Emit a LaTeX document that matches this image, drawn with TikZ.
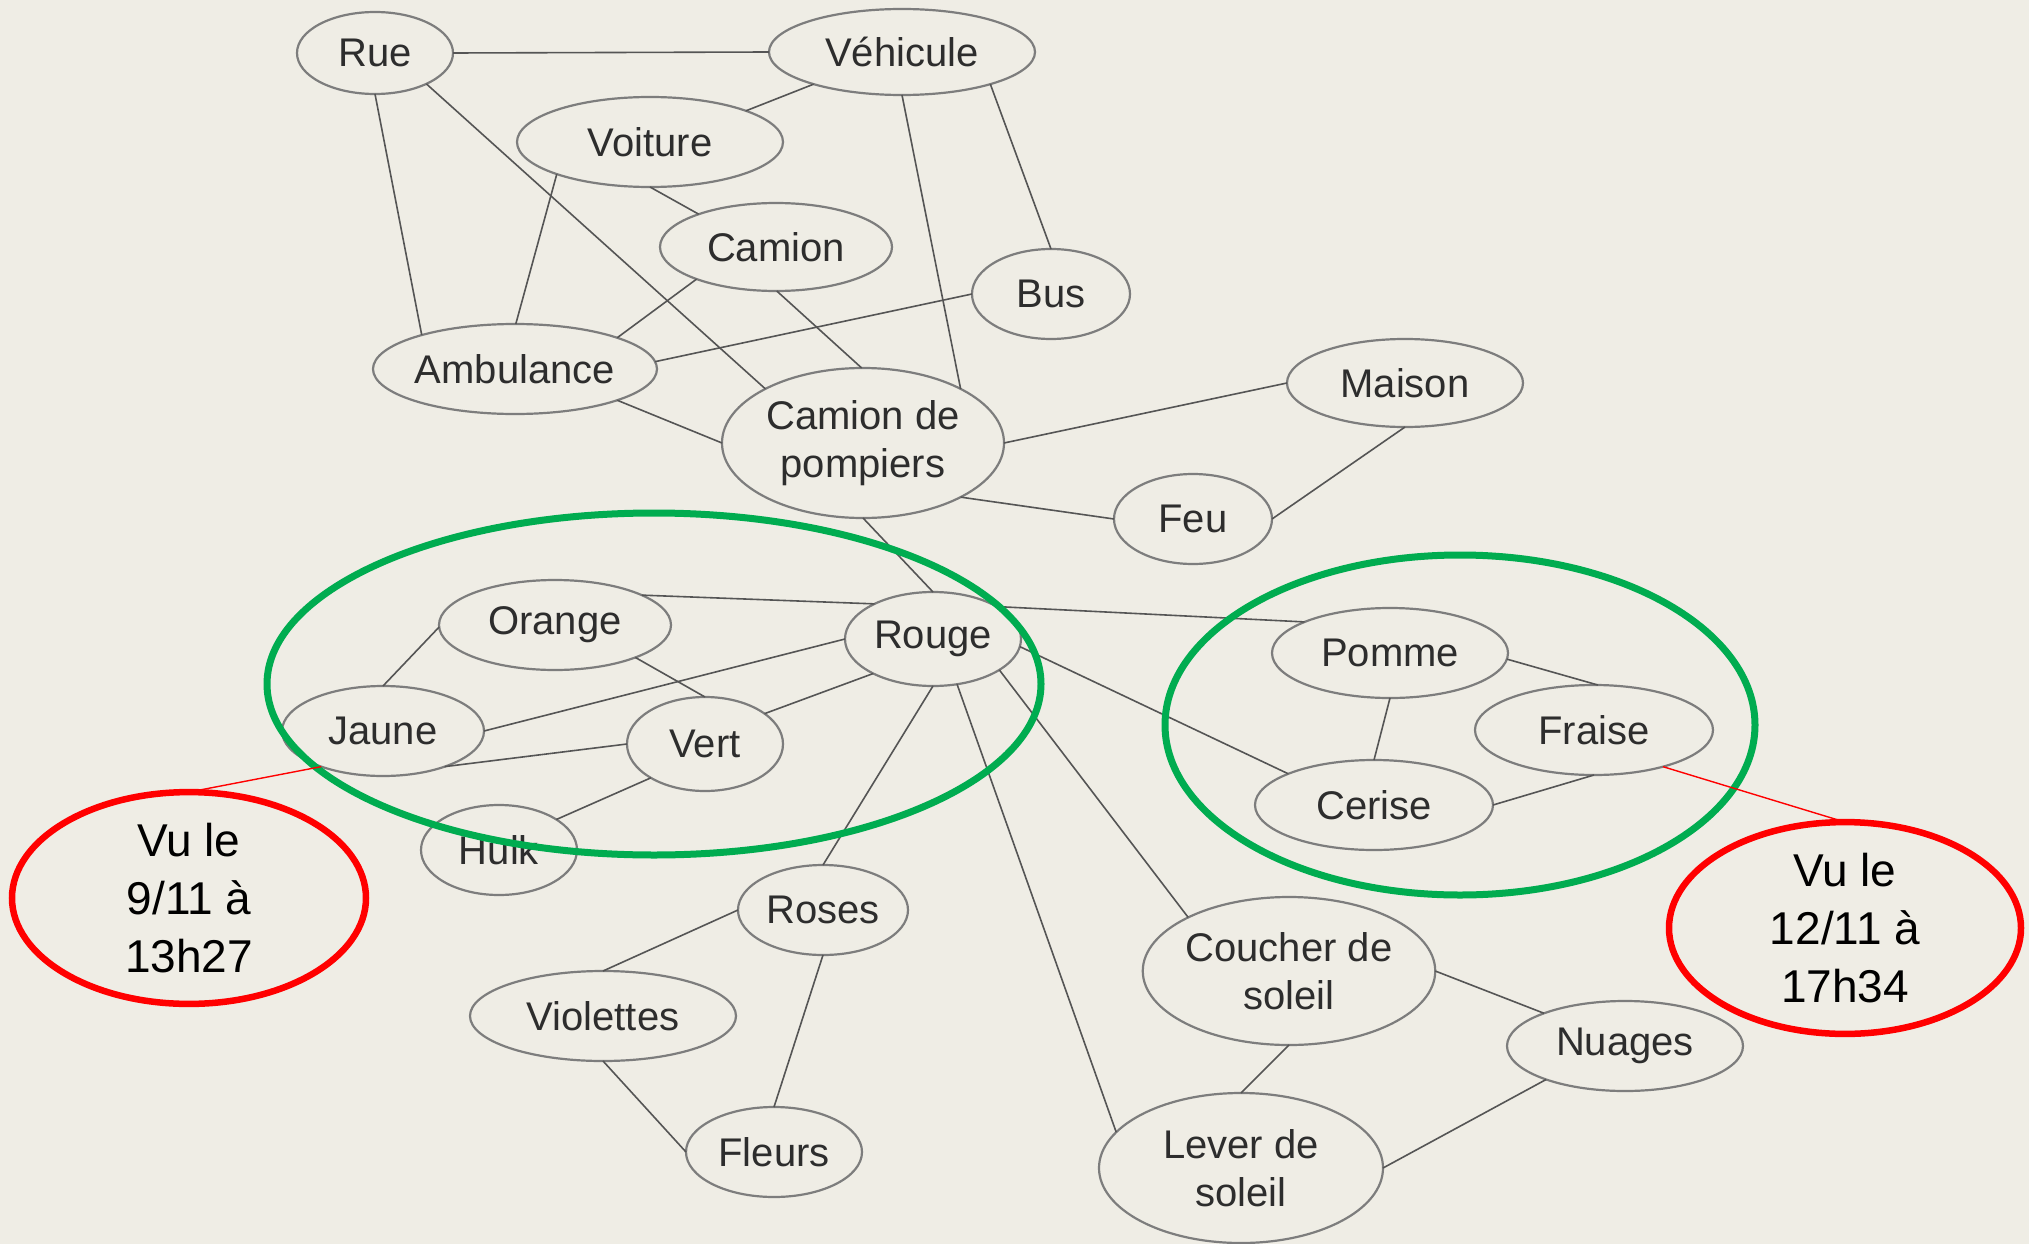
\documentclass[tikz,border=0pt]{standalone}
\usepackage{fontspec}
\setmainfont{Liberation Sans}
\usetikzlibrary{shapes.geometric}
\definecolor{bg}{RGB}{239,237,229}
\definecolor{nodegray}{RGB}{125,125,125}
\definecolor{edgegray}{RGB}{85,85,85}
\definecolor{txtgray}{RGB}{45,45,45}
\definecolor{grp}{RGB}{0,172,80}
\definecolor{note}{RGB}{255,0,0}
\begin{document}
\begin{tikzpicture}[x=1pt,y=-1pt,
  concept/.style={ellipse, draw=nodegray, line width=2.2pt, inner sep=0pt, outer sep=0pt,
    text=txtgray, font=\fontsize{40}{48}\selectfont, align=center},
  sz/.style 2 args={minimum width=#1pt, minimum height=#2pt},
  link/.style={draw=edgegray, line width=1.6pt},
  group/.style={draw=grp, line width=7pt},
  notebox/.style={ellipse, draw=note, line width=6.5pt, inner sep=0pt, outer sep=0pt,
    text=black, font=\fontsize{46}{58}\selectfont, align=center},
  noteline/.style={draw=note, line width=1.4pt}]
\useasboundingbox (0,0) rectangle (2029,1244);
\fill[bg] (0,0) rectangle (2029,1244);

% concept nodes
\node[concept, sz={156}{82}] (rue) at (375,53) {Rue};
\node[concept, sz={266}{86}] (veh) at (902,52) {Véhicule};
\node[concept, sz={266}{90}] (voit) at (650,142) {Voiture};
\node[concept, sz={232}{88}] (cam) at (776,247) {Camion};
\node[concept, sz={158}{90}] (bus) at (1051,294) {Bus};
\node[concept, sz={284}{90}] (amb) at (515,369) {Ambulance};
\node[concept, sz={282}{150}] (pomp) at (863,443) {Camion de\\pompiers};
\node[concept, sz={236}{88}] (mais) at (1405,383) {Maison};
\node[concept, sz={158}{90}] (feu) at (1193,519) {Feu};
\node[concept, sz={232}{90}] (orange) at (555,625) {Orange};
\node[concept, sz={176}{94}] (rouge) at (933,639) {Rouge};
\node[concept, sz={202}{90}] (jaune) at (383,731) {Jaune};
\node[concept, sz={156}{94}] (vert) at (705,744) {Vert};
\node[concept, sz={156}{90}] (hulk) at (499,850) {Hulk};
\node[concept, sz={236}{90}] (pomme) at (1390,653) {Pomme};
\node[concept, sz={238}{90}] (fraise) at (1594,730) {Fraise};
\node[concept, sz={238}{90}] (cerise) at (1374,805) {Cerise};
\node[concept, sz={170}{90}] (roses) at (823,910) {Roses};
\node[concept, sz={266}{90}] (viol) at (603,1016) {Violettes};
\node[concept, sz={176}{90}] (fleurs) at (774,1152) {Fleurs};
\node[concept, sz={284}{148}] (couch) at (1289,971) {Coucher de\\soleil};
\node[concept, sz={236}{90}] (nuag) at (1625,1046) {Nuages};
\node[concept, sz={284}{150}] (lever) at (1241,1168) {Lever de\\soleil};

% connectors
\draw[link] (rue.0) -- (veh.180);
\draw[link] (rue.-90) -- (amb.160);
\draw[link] (rue.-31) -- (pomp.151);
\draw[link] (veh.200) -- (voit.18);
\draw[link] (veh.-90) -- (pomp.29);
\draw[link] (veh.-20) -- (bus.90);
\draw[link] (voit.199) -- (amb.89);
\draw[link] (voit.-90) -- (cam.157);
\draw[link] (cam.202) -- (amb.17);
\draw[link] (cam.-89) -- (pomp.91);
\draw[link] (amb.3) -- (bus.180);
\draw[link] (amb.-17) -- (pomp.180);
\draw[link] (pomp.0) -- (mais.180);
\draw[link] (pomp.-29) -- (feu.180);
\draw[link] (feu.0) -- (mais.-90);
\draw[link] (pomp.-90) -- (rouge.90);
\draw[link] (orange.19) -- (rouge.149);
\draw[link] (rouge.27) -- (pomme.160);
\draw[link] (orange.181) -- (jaune.90);
\draw[link] (orange.-22) -- (vert.90);
\draw[link] (jaune.0) -- (rouge.180);
\draw[link] (jaune.-30) -- (vert.180);
\draw[link] (vert.27) -- (rouge.-150);
\draw[link] (vert.-148) -- (hulk.28);
\draw[link] (rouge.-5) -- (cerise.160);
\draw[link] (rouge.-90) -- (roses.90);
\draw[link] (rouge.-62) -- (lever.164);
\draw[link] (rouge.-25) -- (couch.152);
\draw[link] (pomme.-3) -- (fraise.85);
\draw[link] (pomme.-90) -- (cerise.90);
\draw[link] (cerise.0) -- (fraise.-90);
\draw[link] (roses.180) -- (viol.90);
\draw[link] (roses.-90) -- (fleurs.90);
\draw[link] (viol.-90) -- (fleurs.180);
\draw[link] (couch.0) -- (nuag.158);
\draw[link] (couch.-90) -- (lever.90);
\draw[link] (lever.0) -- (nuag.203);

% groups
\node[ellipse, group, inner sep=0pt, sz={774}{342}] (g1) at (654,684) {};
\node[ellipse, group, inner sep=0pt, sz={590}{340}] (g2) at (1460,725) {};

% notes
\node[notebox, sz={354}{188}] (n1) at (189,898) {Vu le\\9/11 à\\13h27};
\node[notebox, sz={352}{188}] (n2) at (1845,928) {Vu le\\12/11 à\\17h34};
\draw[noteline] (jaune.210) -- (n1.north);
\draw[noteline] (fraise.-28) -- (n2.north);
\end{tikzpicture}
\end{document}
